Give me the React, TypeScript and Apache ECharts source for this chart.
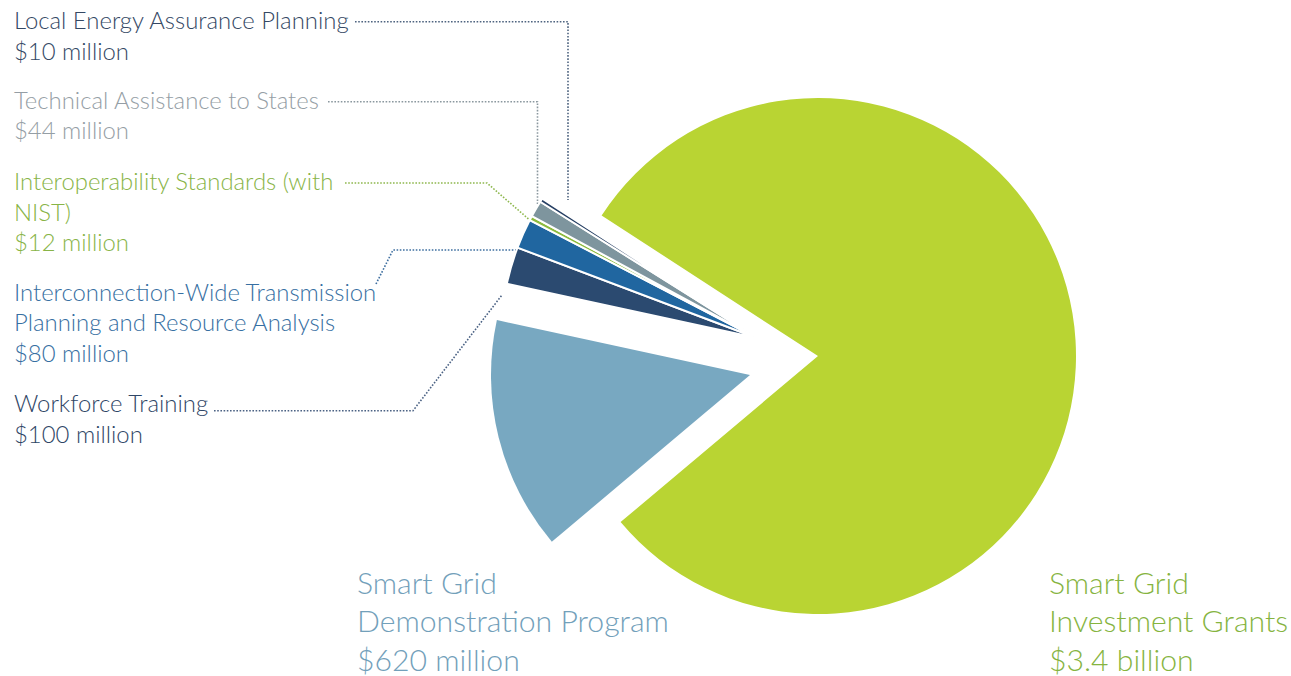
import React, { useEffect, useRef } from "react";
import * as echarts from "echarts";

// ---- data ----
const categoryLines = [
  "Smart Grid\nInvestment Grants",
  "Smart Grid\nDemonstration Program",
  "Workforce Training",
  "Interconnection-Wide Transmission\nPlanning and Resource Analysis",
  "Interoperability Standards (with\nNIST)",
  "Technical Assistance to States",
  "Local Energy Assurance Planning",
];
const categories = categoryLines.map((s) => s.replace("\n", " "));
const values = [3400, 620, 100, 80, 12, 44, 10]; // $ million
const valueText = [
  "$3.4 billion",
  "$620 million",
  "$100 million",
  "$80 million",
  "$12 million",
  "$44 million",
  "$10 million",
];

// ---- styles ----
const sliceColors = ["#b9d433", "#78a8c1", "#2b4a70", "#2066a0", "#8dbb3f", "#7e959e", "#263f63"];
const labelColors = ["#86b43f", "#72a0ba", "#2f4666", "#376fa2", "#88b447", "#959ea5", "#344864"];
const leaderColors = ["", "", "#4b6284", "#3e6fa0", "#8fb84f", "#8b989f", "#4f6480"];

const FONT = "Lato, 'Noto Sans', sans-serif";

export default function App() {
  const ref = useRef<HTMLDivElement>(null);

  useEffect(() => {
    document.body.style.margin = "0";
    const chart = echarts.init(ref.current!, null, { renderer: "svg" });

    const groups = [[0], [1], [2, 3, 4, 5, 6]];
    const centers = [
      [818, 356],
      [750, 375],
      [757, 338],
    ];
    const radii = [258, 259, 256];

    const series = groups.map((g, gi) => ({
      type: "pie",
      center: centers[gi],
      radius: [0, radii[gi]],
      startAngle: 147,
      clockwise: true,
      silent: true,
      avoidLabelOverlap: false,
      label: { show: false },
      labelLine: { show: false },
      emphasis: { disabled: true },
      data: categories.map((name, i) => ({
        name,
        value: values[i],
        itemStyle: g.includes(i)
          ? {
              color: sliceColors[i],
              borderColor: "#ffffff",
              borderWidth: gi === 2 ? 2 : 0,
            }
          : { color: "rgba(0,0,0,0)", borderWidth: 0 },
      })),
    }));

    // label layout (positions only)
    const smallX = 14;
    const smallLH = 30.5;
    const smallSize = 23.9;
    const firstBaseline: Record<number, number> = { 6: 28.3, 5: 108, 4: 189.5, 3: 300, 2: 411.5 };
    const bigLH = 38.8;
    const bigSize = 30.2;
    const bigPos: Record<number, [number, number]> = { 1: [357, 592.5], 0: [1049, 592.5] };

    const graphic: any[] = [];
    const addLines = (i: number, x: number, y0: number, lh: number, size: number) => {
      const lines = [...categoryLines[i].split("\n"), valueText[i]];
      lines.forEach((t, k) => {
        graphic.push({
          type: "text",
          x,
          y: y0 + k * lh - size * 0.36,
          silent: true,
          style: {
            text: t,
            fill: labelColors[i],
            font: `300 ${size}px ${FONT}`,
            textAlign: "left",
            textVerticalAlign: "middle",
          },
        });
      });
    };
    [2, 3, 4, 5, 6].forEach((i) => addLines(i, smallX, firstBaseline[i], smallLH, smallSize));
    [0, 1].forEach((i) => addLines(i, bigPos[i][0], bigPos[i][1], bigLH, bigSize));

    const leaders: Record<number, number[][]> = {
      6: [[355, 21.7], [568, 21.7], [568, 200]],
      5: [[328, 101.7], [537.5, 101.7], [537.5, 204]],
      4: [[345, 183], [487, 183], [532, 222]],
      3: [[376, 284], [393, 250], [516, 250]],
      2: [[214, 410.7], [413, 410.7], [502, 295]],
    };
    Object.keys(leaders).forEach((k) => {
      const i = Number(k);
      graphic.push({
        type: "polyline",
        silent: true,
        shape: { points: leaders[i] },
        style: { stroke: leaderColors[i], lineWidth: 1.6, lineDash: [1.6, 1.6], fill: null },
      });
    });

    chart.setOption({
      animation: false,
      backgroundColor: "#ffffff",
      series,
      graphic,
    });

    return () => chart.dispose();
  }, []);

  return (
    <div
      ref={ref}
      style={{ position: "absolute", left: 0, top: 0, width: 1291, height: 676 }}
    />
  );
}
